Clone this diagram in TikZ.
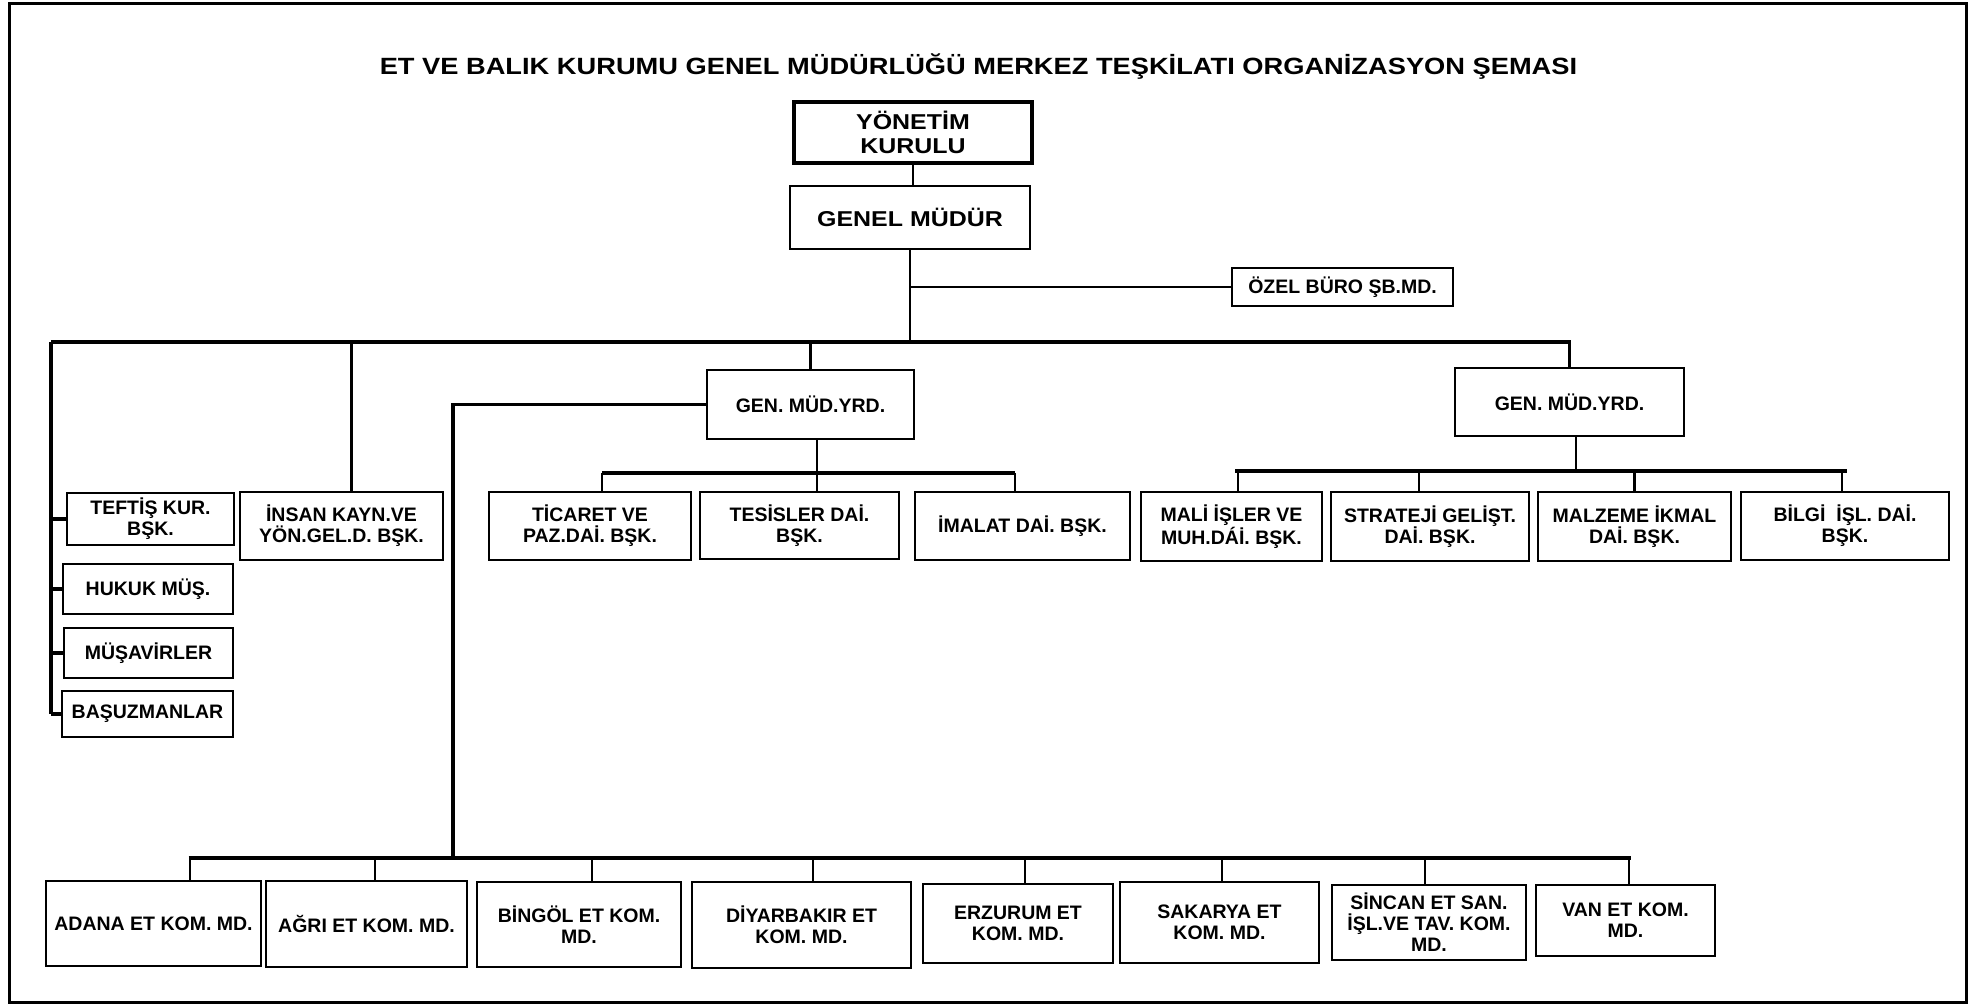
\documentclass[tikz,border=0pt]{standalone}
\usepackage{fontspec}
\setmainfont{Liberation Sans}
\newfontfamily\widefont{Liberation Sans}[FakeStretch=1.16]
\usetikzlibrary{calc}
\tikzset{x=1pt,y=-1pt}
\def\busy{342}
\def\lowy{858}
\def\midy{473}
\def\righty{471}

\tikzset{
	unit/.style={draw, line width=2pt, inner sep=2pt, align=center, font=\fontsize{19.5}{21}\selectfont\bfseries},
	head/.style={unit, font=\widefont\fontsize{21.5}{24}\selectfont\bfseries},
	bus/.style={line width=3.5pt},
	link/.style={line width=2.2pt}
}

\begin{document}
\begin{tikzpicture}

\useasboundingbox (0,0) rectangle (1973,1005);
\draw[line width=3pt] (9,3) rectangle (1966,1002);

\node[font=\widefont\fontsize{23.5}{28}\selectfont\bfseries, anchor=base] (T) at (978.5,74) {ET VE BALIK KURUMU GENEL MÜDÜRLÜĞÜ MERKEZ TEŞKİLATI ORGANİZASYON ŞEMASI};

%% top of the chart
\node[head, line width=4pt, minimum width=238pt, minimum height=61pt] (YK) at (913,132.5) {YÖNETİM\\KURULU};
\node[head, minimum width=240pt, minimum height=63pt] (GM) at (910,217.5) {GENEL MÜDÜR};
\node[unit, minimum width=221pt, minimum height=38pt] (OB) at (1342.5,287) {ÖZEL BÜRO ŞB.MD.};
\node[unit, minimum width=207pt, minimum height=69pt] (GMY1) at (810.5,404.5) {GEN. MÜD.YRD.};
\node[unit, minimum width=229pt, minimum height=68pt] (GMY2) at (1569.5,402) {GEN. MÜD.YRD.};

%% left column
\node[unit, minimum width=167pt, minimum height=52pt] (TK) at (150.5,519) {TEFTİŞ KUR.\\BŞK.};
\node[unit, minimum width=170pt, minimum height=50pt] (HM) at (148,589) {HUKUK MÜŞ.};
\node[unit, minimum width=169pt, minimum height=50pt] (MS) at (148.5,653) {MÜŞAVİRLER};
\node[unit, minimum width=171pt, minimum height=46pt] (BU) at (147.5,714) {BAŞUZMANLAR};
\node[unit, minimum width=203pt, minimum height=68pt] (IK) at (341.5,526) {İNSAN KAYN.VE\\YÖN.GEL.D. BŞK.};

%% middle row
\node[unit, minimum width=202pt, minimum height=68pt] (TP) at (590,526) {TİCARET VE\\PAZ.DAİ. BŞK.};
\node[unit, minimum width=199pt, minimum height=67pt] (TD) at (799.5,525.5) {TESİSLER DAİ.\\BŞK.};
\node[unit, minimum width=215pt, minimum height=68pt] (ID) at (1022.5,526) {İMALAT DAİ. BŞK.};
\node[unit, minimum width=181pt, minimum height=69pt] (MI) at (1231.5,526.5) {MALİ İŞLER VE\\MUH.DÁİ. BŞK.};
\node[unit, minimum width=198pt, minimum height=69pt] (SG) at (1430,526.5) {STRATEJİ GELİŞT.\\DAİ. BŞK.};
\node[unit, minimum width=193pt, minimum height=69pt] (MK) at (1634.5,526.5) {MALZEME İKMAL\\DAİ. BŞK.};
\node[unit, minimum width=208pt, minimum height=68pt] (BI) at (1845,526) {BİLGİ~ İŞL. DAİ.\\BŞK.};

%% bottom row
\node[unit, minimum width=215pt, minimum height=85pt] (AD) at (153.5,923.5) {ADANA ET KOM. MD.};
\node[unit, minimum width=201pt, minimum height=86pt] (AG) at (366.5,924) {AĞRI ET KOM. MD.};
\node[unit, minimum width=204pt, minimum height=85pt] (BN) at (579,924.5) {BİNGÖL ET KOM.\\MD.};
\node[unit, minimum width=219pt, minimum height=86pt] (DY) at (801.5,925) {DİYARBAKIR ET\\KOM. MD.};
\node[unit, minimum width=190pt, minimum height=79pt] (ER) at (1018,923.5) {ERZURUM ET\\KOM. MD.};
\node[unit, minimum width=199pt, minimum height=81pt] (SK) at (1219.5,922.5) {SAKARYA ET\\KOM. MD.};
\node[unit, minimum width=194pt, minimum height=75pt] (SN) at (1429,922.5) {SİNCAN ET SAN.\\İŞL.VE TAV. KOM.\\MD.};
\node[unit, minimum width=179pt, minimum height=71pt] (VN) at (1625.5,920.5) {VAN ET KOM.\\MD.};

%% main bus
\coordinate (B0) at (51,\busy);
\draw[link] (YK.south) -- (YK.south |- GM.north);
\draw[link] (GM.south) -- (GM.south |- B0);
\draw[link] (GM.south |- OB.west) -- (OB.west);
\draw[bus] (B0) -- (GMY2.north |- B0) -- (GMY2.north);
\draw[bus] (GMY1.north |- B0) -- (GMY1.north);
\draw[bus] ([xshift=10pt]IK.north |- B0) -- ([xshift=10pt]IK.north);

%% left column ticks
\draw[bus] (B0) -- (B0 |- BU.west);
\foreach \n in {TK,HM,MS,BU}
	\draw[bus] (B0 |- \n.west) -- (\n.west);

%% middle branch
\coordinate (M0) at (0,\midy);
\draw[link] ([xshift=6.5pt]GMY1.south) -- ([xshift=6.5pt]GMY1.south |- M0);
\draw[bus] ([xshift=12pt]TP.north |- M0) -- ([xshift=-7.5pt]ID.north |- M0);
\foreach \n/\s in {TP/12,TD/17.5,ID/-7.5}
	\draw[link] ([xshift=\s pt]\n.north |- M0) -- ([xshift=\s pt]\n.north);

%% right branch
\coordinate (R0) at (0,\righty);
\draw[link] ([xshift=6.5pt]GMY2.south) -- ([xshift=6.5pt]GMY2.south |- R0);
\draw[bus] ([xshift=3.5pt]MI.north |- R0) -- ([xshift=2pt]BI.north |- R0);
\foreach \n/\s in {MI/6.5,SG/-11,MK/0,BI/-3}
	\draw[link] ([xshift=\s pt]\n.north |- R0) -- ([xshift=\s pt]\n.north);

%% bottom branch
\coordinate (K0) at (453,\lowy);
\draw[bus] (GMY1.west) -| (K0);
\draw[bus] ([xshift=35pt]AD.north |- K0) -- ([xshift=5pt]VN.north |- K0);
\foreach \n/\s in {AD/36.5,AG/8.5,BN/13,DY/11.5,ER/7,SK/2.5,SN/-4,VN/3.5}
	\draw[link] ([xshift=\s pt]\n.north |- K0) -- ([xshift=\s pt]\n.north);

\end{tikzpicture}
\end{document}
